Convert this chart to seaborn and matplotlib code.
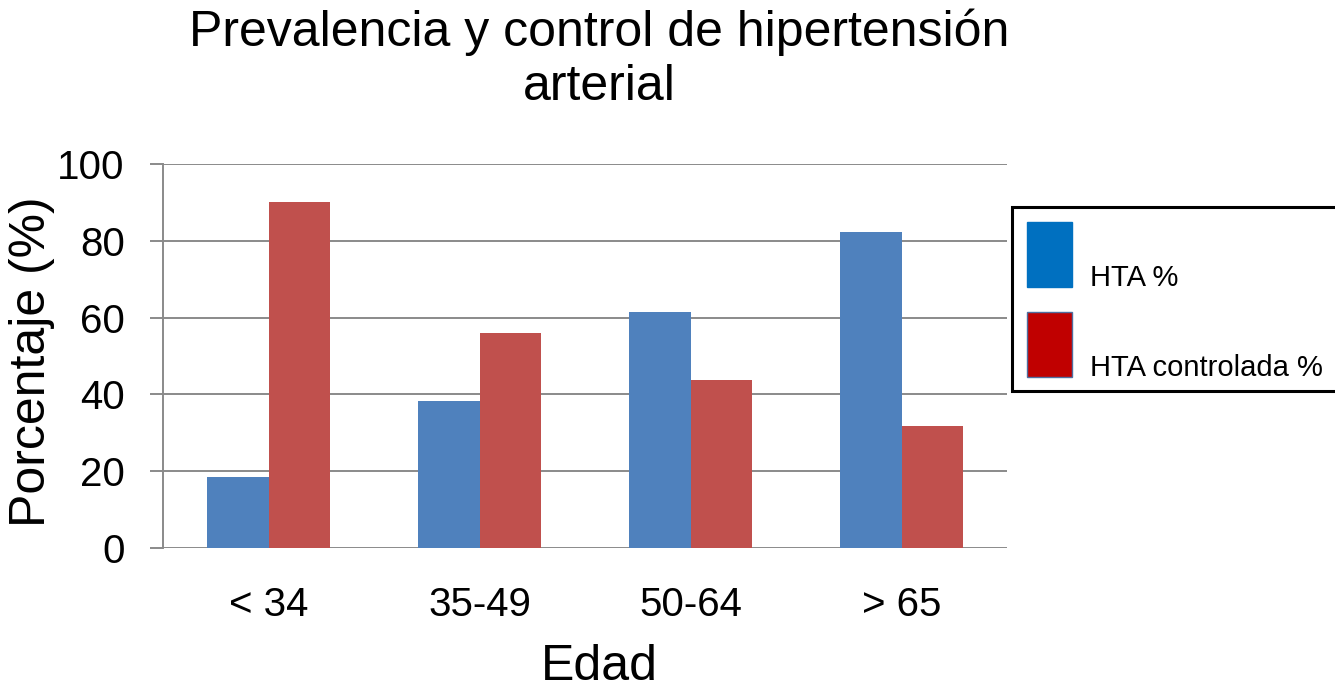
import numpy as np
import pandas as pd
import seaborn as sns
import matplotlib.pyplot as plt
from matplotlib.patches import Patch

# data
edades = ["< 34", "35-49", "50-64", "> 65"]
hta = [18.5, 38.3, 61.5, 82.4]
hta_controlada = [90.2, 56.1, 43.8, 31.9]
series = ["HTA %", "HTA controlada %"]

sns.set_theme(style="white")
plt.rcParams['font.family'] = ['Liberation Sans', 'DejaVu Sans']
plt.rcParams['text.color'] = 'black'

df = pd.DataFrame({"Edad": edades, series[0]: hta, series[1]: hta_controlada})
df = df.melt(id_vars="Edad", var_name="serie", value_name="pct")

fig = plt.figure(figsize=(13.35, 6.93), dpi=100)
ax = fig.add_axes([163/1335, 1-548/693, 844/1335, 384/693])

sns.barplot(data=df, x="Edad", y="pct", hue="serie", palette=["#4F81BD", "#C0504D"],
            width=0.58, saturation=1, linewidth=0, errorbar=None, legend=False, ax=ax)

grid_c = "#8A8A8A"
ax.set_xlim(-0.5, 3.5)
ax.set_ylim(0, 100)
ax.set_yticks(np.arange(0, 101, 20))
ax.set_axisbelow(True)
ax.yaxis.grid(True, color=grid_c, lw=1.4)
for s in ["top", "right", "bottom"]:
	ax.spines[s].set_visible(False)
ax.spines["left"].set_color(grid_c)
ax.spines["left"].set_linewidth(1.4)
ax.tick_params(axis="y", left=True, length=9.5, width=1.4, color=grid_c, pad=18, labelsize=29, labelcolor="black")
ax.tick_params(axis="x", bottom=False, length=0, pad=27, labelsize=29, labelcolor="black")

ax.set_ylabel("Porcentaje (%)", fontsize=36, color="black")
ax.yaxis.set_label_coords(-0.128, 0.484)
ax.set_xlabel("Edad", fontsize=36, color="black")
ax.xaxis.set_label_coords(0.517, -0.25)

fig.text(599/1335, 1-9/693, "Prevalencia y control de hipertensión\narterial",
         ha="center", va="top", fontsize=36, linespacing=1.2)

#Legend (colors differ from the bars in the original)
handles = [Patch(facecolor="#0070C0", edgecolor="#0070C0"),
           Patch(facecolor="#C00000", edgecolor="#4F6E9F", lw=1)]
fs = 21
hh = 3.05
leg = fig.legend(handles, series, loc="upper left",
                 bbox_to_anchor=(1012/1335, 1-207/693), bbox_transform=fig.transFigure,
                 fontsize=fs, frameon=True, fancybox=False, edgecolor="black", framealpha=1,
                 handlelength=1.55, handleheight=hh, labelspacing=0.86,
                 handletextpad=0.62, borderpad=0.5, borderaxespad=0)
leg.get_frame().set_linewidth(2.2)
# text sits on the bottom edge of the patch in the original
shift = 0.35 * fs * (hh - 0.7) * fig.dpi / 72
for t in leg.get_texts():
	t.set_y(-shift + 1)

fig.savefig("out.png", dpi=100)
